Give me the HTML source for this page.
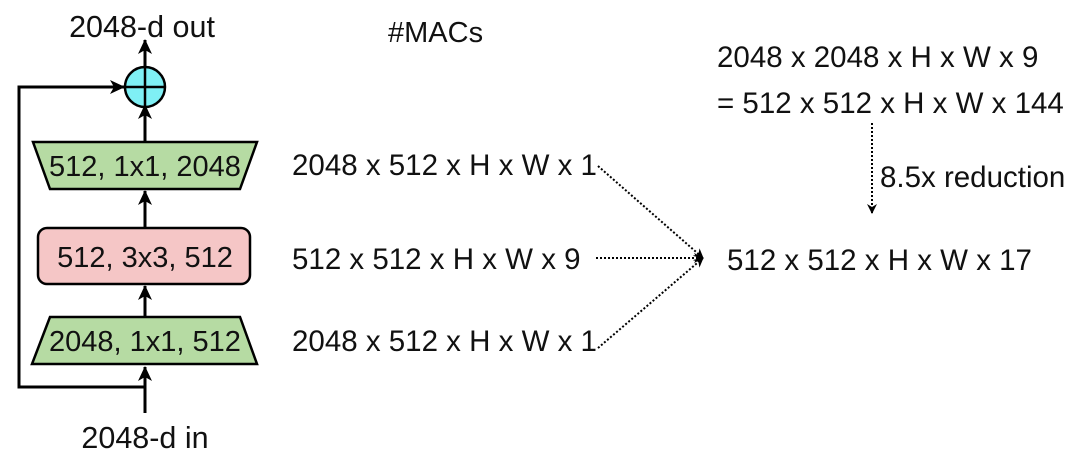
<!DOCTYPE html>
<html><head><style>
body{margin:0;background:#fff;}
svg text{font-family:"Liberation Sans",Arial,sans-serif;fill:#111;}
</style></head><body>
<svg width="1084" height="459" xmlns="http://www.w3.org/2000/svg">
<defs>
<marker id="a" markerWidth="10" markerHeight="10" refX="9" refY="5" orient="auto" markerUnits="userSpaceOnUse"><path d="M0,0 L10,5 L0,10 L3,5 Z" fill="#000"/></marker>
<marker id="b" markerWidth="16" markerHeight="16" refX="14" refY="8" orient="auto" markerUnits="userSpaceOnUse"><path d="M0,1 L15,8 L0,15 L4,8 Z" fill="#000"/></marker>
</defs>
<text x="142" y="37" font-size="30.5" text-anchor="middle">2048-d out</text>
<text x="145" y="448" font-size="30.5" text-anchor="middle">2048-d in</text>
<text x="388" y="42" font-size="29">#MACs</text>
<g stroke="#000" stroke-width="3" fill="none">
<line x1="145" y1="413" x2="145" y2="367" marker-end="url(#b)"/>
<line x1="145" y1="316" x2="145" y2="286" marker-end="url(#b)"/>
<line x1="145" y1="228" x2="145" y2="191" marker-end="url(#b)"/>
<line x1="145" y1="142" x2="145" y2="105" marker-end="url(#b)"/>
<line x1="145" y1="68" x2="145" y2="40" marker-end="url(#b)"/>
<polyline points="145,387 19,387 19,87 124,87" marker-end="url(#b)"/>
</g>
<polygon points="33,142 257,142 240,189 50,189" fill="#b6dba3" stroke="#000" stroke-width="2.5"/>
<text x="145" y="176" font-size="29" text-anchor="middle">512, 1x1, 2048</text>
<rect x="38" y="228" width="212" height="56" rx="9" fill="#f5c6c6" stroke="#000" stroke-width="2.5"/>
<text x="145" y="267" font-size="29" text-anchor="middle">512, 3x3, 512</text>
<polygon points="50,317 240,317 257,364 32,364" fill="#b6dba3" stroke="#000" stroke-width="2.5"/>
<text x="145" y="351" font-size="29" text-anchor="middle">2048, 1x1, 512</text>
<circle cx="145" cy="87" r="20" fill="#7ff0f5" stroke="#000" stroke-width="2.5"/>
<line x1="125" y1="87" x2="165" y2="87" stroke="#000" stroke-width="2.5"/>
<line x1="145" y1="67" x2="145" y2="107" stroke="#000" stroke-width="2.5"/>
<text x="292" y="175" font-size="29.5">2048 x 512 x H x W x 1</text>
<text x="292" y="269" font-size="29.5">512 x 512 x H x W x 9</text>
<text x="292" y="351" font-size="29.5">2048 x 512 x H x W x 1</text>
<text x="717" y="67" font-size="29.5">2048 x 2048 x H x W x 9</text>
<text x="717" y="113" font-size="29.5">= 512 x 512 x H x W x 144</text>
<text x="880" y="187" font-size="29.5">8.5x reduction</text>
<text x="727" y="270" font-size="29.5">512 x 512 x H x W x 17</text>
<g stroke="#000" stroke-width="2" stroke-dasharray="2,2" fill="none">
<line x1="598" y1="166" x2="703" y2="258" marker-end="url(#a)"/>
<line x1="596" y1="258" x2="703" y2="258" marker-end="url(#a)"/>
<line x1="598" y1="348" x2="703" y2="258" marker-end="url(#a)"/>
<line x1="872" y1="123" x2="872" y2="213" marker-end="url(#a)"/>
</g>
</svg>
</body></html>
